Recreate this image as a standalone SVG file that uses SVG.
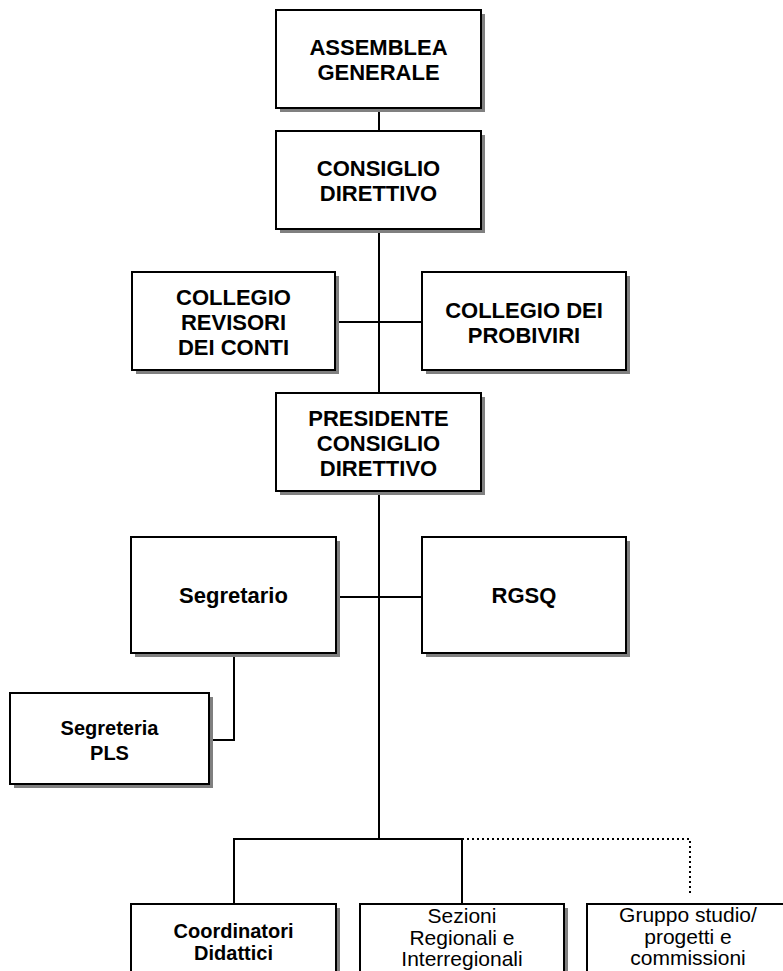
<svg xmlns="http://www.w3.org/2000/svg" width="783" height="971" viewBox="0 0 783 971">
<defs>
<style>
.box{fill:#fff;stroke:#000;stroke-width:2}
.sh{fill:#808080}
.t{font-family:"Liberation Sans",Arial,sans-serif;font-weight:bold;font-size:22px;text-anchor:middle;fill:#000}
.ts{font-family:"Liberation Sans",Arial,sans-serif;font-weight:bold;font-size:20px;text-anchor:middle;fill:#000}
.tr{font-family:"Liberation Sans",Arial,sans-serif;font-weight:normal;font-size:21px;text-anchor:middle;fill:#000}
.ln{fill:none;stroke:#000;stroke-width:2}
.dot{fill:none;stroke:#000;stroke-width:2;stroke-dasharray:2 3}
</style>
</defs>
<rect width="783" height="971" fill="#fff"/>
<g id="connectors">
<line class="ln" x1="379" y1="108" x2="379" y2="839"/>
<line class="ln" x1="335" y1="322" x2="422" y2="322"/>
<line class="ln" x1="336" y1="597" x2="422" y2="597"/>
<polyline class="ln" points="234,653 234,740 209,740"/>
<polyline class="ln" points="234,904 234,839 462,839 462,904"/>
<polyline class="dot" points="462,839 690,839 690,896"/>
</g>
<g id="assemblea">
<rect class="sh" x="280" y="14" width="205" height="98"/>
<rect class="box" x="276" y="10" width="205" height="98"/>
<text class="t" x="378.5" y="55">ASSEMBLEA</text>
<text class="t" x="378.5" y="80">GENERALE</text>
</g>
<g id="consiglio">
<rect class="sh" x="280" y="135" width="205" height="98"/>
<rect class="box" x="276" y="131" width="205" height="98"/>
<text class="t" x="378.5" y="176">CONSIGLIO</text>
<text class="t" x="378.5" y="201">DIRETTIVO</text>
</g>
<g id="revisori">
<rect class="sh" x="136" y="276" width="203" height="98"/>
<rect class="box" x="132" y="272" width="203" height="98"/>
<text class="t" x="233.5" y="305">COLLEGIO</text>
<text class="t" x="233.5" y="330">REVISORI</text>
<text class="t" x="233.5" y="355">DEI CONTI</text>
</g>
<g id="probiviri">
<rect class="sh" x="426" y="276" width="204" height="98"/>
<rect class="box" x="422" y="272" width="204" height="98"/>
<text class="t" x="524" y="318">COLLEGIO DEI</text>
<text class="t" x="524" y="343">PROBIVIRI</text>
</g>
<g id="presidente">
<rect class="sh" x="280" y="397" width="205" height="98"/>
<rect class="box" x="276" y="393" width="205" height="98"/>
<text class="t" x="378.5" y="426">PRESIDENTE</text>
<text class="t" x="378.5" y="451">CONSIGLIO</text>
<text class="t" x="378.5" y="476">DIRETTIVO</text>
</g>
<g id="segretario">
<rect class="sh" x="135" y="541" width="205" height="116"/>
<rect class="box" x="131" y="537" width="205" height="116"/>
<text class="t" x="233.5" y="603">Segretario</text>
</g>
<g id="rgsq">
<rect class="sh" x="426" y="541" width="204" height="116"/>
<rect class="box" x="422" y="537" width="204" height="116"/>
<text class="t" x="524" y="603">RGSQ</text>
</g>
<g id="segreteria">
<rect class="sh" x="14" y="697" width="199" height="91"/>
<rect class="box" x="10" y="693" width="199" height="91"/>
<text class="ts" x="109.5" y="735">Segreteria</text>
<text class="ts" x="109.5" y="760">PLS</text>
</g>
<g id="coordinatori">
<rect class="sh" x="135" y="908" width="205" height="80"/>
<rect class="box" x="131" y="904" width="205" height="80"/>
<text class="ts" x="233.5" y="938">Coordinatori</text>
<text class="ts" x="233.5" y="960">Didattici</text>
</g>
<g id="sezioni">
<rect class="sh" x="364" y="908" width="204" height="80"/>
<rect class="box" x="360" y="904" width="204" height="80"/>
<text class="tr" x="462" y="923">Sezioni</text>
<text class="tr" x="462" y="944.5">Regionali e</text>
<text class="tr" x="462" y="966">Interregionali</text>
</g>
<g id="gruppo">
<rect class="sh" x="591" y="908" width="204" height="80"/>
<rect class="box" x="587" y="904" width="204" height="80"/>
<text class="tr" x="688" y="922">Gruppo studio/</text>
<text class="tr" x="688" y="943.5">progetti e</text>
<text class="tr" x="688" y="965">commissioni</text>
</g>
</svg>
